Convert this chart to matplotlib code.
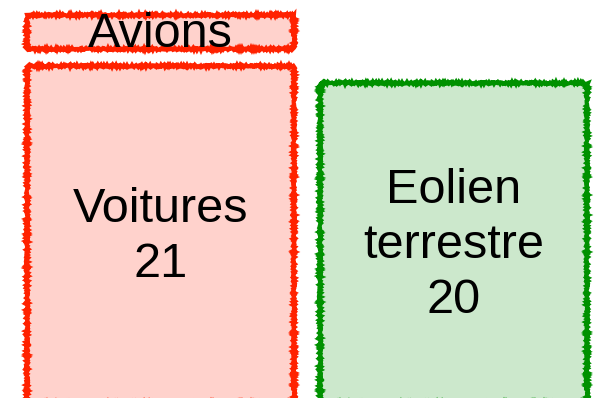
import matplotlib
matplotlib.use("Agg")
import matplotlib.pyplot as plt

plt.rcParams["font.family"] = ["Liberation Sans", "DejaVu Sans"]

# segments visibles, empilés par colonne (de bas en haut)
names = ["Voitures", "Avions", "Eolien\nterrestre"]
values = [21, 3, 20]
columns = [0, 0, 1]
edge_colors = ["#ff2200", "#ff2200", "#009100"]
fill_colors = ["#ffd2cc", "#ffd2cc", "#cce8cc"]

PAD = 0.51      # espace entre deux blocs (unités de données, par côté)
WIDTH = 0.91

# bas de chaque segment = cumul des segments précédents de la même colonne
bottoms = []
totals = {}
for col, v in zip(columns, values):
    bottoms.append(totals.get(col, 0))
    totals[col] = totals.get(col, 0) + v

fig = plt.figure(figsize=(6.07, 3.98), dpi=100)
ax = fig.add_axes([0, 0, 1, 1])
ax.set_axis_off()

bars = ax.bar(columns, [v - 2 * PAD for v in values],
              bottom=[b + PAD for b in bottoms], width=WIDTH,
              color=fill_colors, edgecolor=edge_colors, linewidth=2.9)
for bar in bars:
    bar.set_sketch_params(1.2, 3, 2)
    bar.set_clip_on(False)

for name, v, col, b in zip(names, values, columns, bottoms):
    label = name if v < 5 else f"{name}\n{v}"
    ax.annotate(label, (col, b + v / 2), xytext=(0, -2),
                textcoords="offset points", ha="center", va="center",
                fontsize=35, linespacing=1.28)

ax.set_xlim(-0.548, 1.524)
ax.set_ylim(0.8, 24.39)

fig.savefig("out.png", dpi=100)
